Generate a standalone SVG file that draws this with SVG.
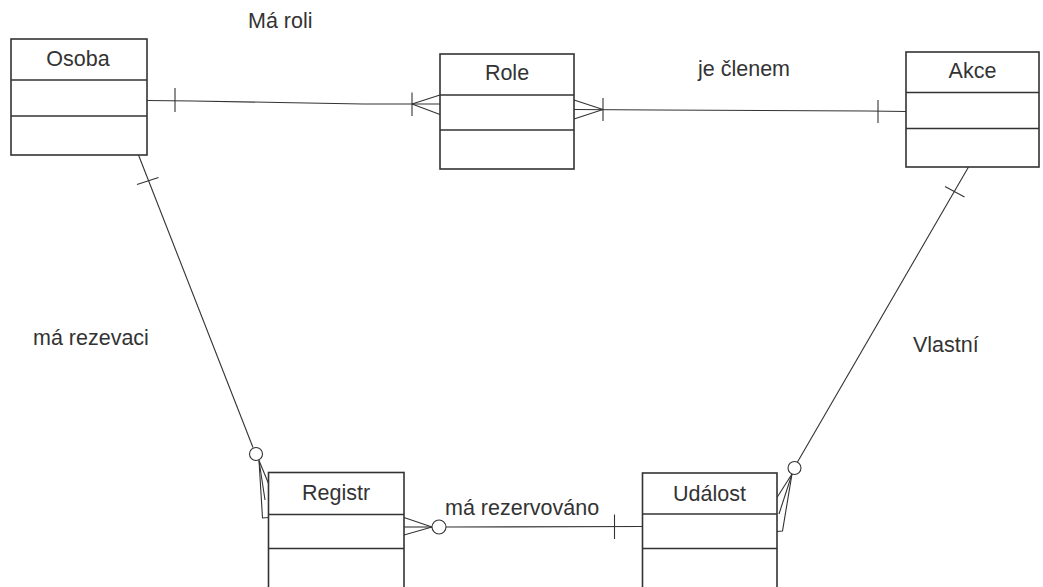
<svg xmlns="http://www.w3.org/2000/svg" width="1043" height="587" viewBox="0 0 1043 587">
  <style>
    .box { fill: #fff; stroke: #333; stroke-width: 1.6; }
    .div { stroke: #333; stroke-width: 1.6; fill: none; }
    .name { font-family: "Liberation Sans", Arial, sans-serif; font-size: 21.5px; fill: #333; text-anchor: middle; }
    .lbl { font-family: "Liberation Sans", Arial, sans-serif; font-size: 21.5px; fill: #333; }
    .ln { stroke: #333; stroke-width: 1.1; fill: none; }
    .circ { stroke: #333; stroke-width: 1.1; fill: #fff; }
  </style>
  <rect width="1043" height="587" fill="#fff"/>

  <!-- relationship lines -->
  <g id="connectors">
    <!-- Osoba - Role -->
    <polyline class="ln" points="147,100.5 193,101 279,102.5 363,104 440,104"/>
    <line class="ln" x1="175" y1="88" x2="175" y2="112"/>
    <line class="ln" x1="412" y1="92.5" x2="412" y2="116"/>
    <line class="ln" x1="412" y1="104" x2="440" y2="95"/>
    <line class="ln" x1="412" y1="104" x2="440" y2="114.5"/>

    <!-- Role - Akce -->
    <polyline class="ln" points="574,109.5 657,110 868,111 906,111.5"/>
    <line class="ln" x1="574" y1="100" x2="603" y2="109.5"/>
    <line class="ln" x1="574" y1="119" x2="603" y2="109.5"/>
    <line class="ln" x1="603" y1="98" x2="603" y2="121"/>
    <line class="ln" x1="878" y1="100" x2="878" y2="123"/>

    <!-- Osoba - Registr -->
    <line class="ln" x1="138.5" y1="155" x2="253" y2="447.5"/>
    <line class="ln" x1="137" y1="184.5" x2="158.5" y2="177.5"/>
    <circle class="circ" cx="256" cy="454" r="6.5"/>
    <line class="ln" x1="259" y1="460.5" x2="268.5" y2="483.5"/>
    <line class="ln" x1="259" y1="460.5" x2="265" y2="500"/>
    <polyline class="ln" points="259,460.5 262.5,518 268.5,517.5"/>

    <!-- Registr - Událost -->
    <line class="ln" x1="446" y1="527" x2="642" y2="526.5"/>
    <line class="ln" x1="404" y1="517.5" x2="432" y2="527"/>
    <line class="ln" x1="404" y1="527" x2="432" y2="527"/>
    <line class="ln" x1="404" y1="535" x2="432" y2="527"/>
    <circle class="circ" cx="439" cy="527" r="7"/>
    <line class="ln" x1="614.5" y1="514.5" x2="614.5" y2="539"/>

    <!-- Akce - Událost -->
    <line class="ln" x1="968.5" y1="167" x2="797.5" y2="462"/>
    <line class="ln" x1="945" y1="186.5" x2="964.5" y2="197"/>
    <circle class="circ" cx="794.5" cy="468" r="6.5"/>
    <line class="ln" x1="792" y1="474" x2="777" y2="497.5"/>
    <line class="ln" x1="792" y1="474" x2="779" y2="514"/>
    <polyline class="ln" points="792,474 782.5,531 777,531.5"/>
  </g>

  <!-- entities -->
  <g id="osoba">
    <rect class="box" x="11" y="39" width="136" height="116"/>
    <line class="div" x1="11" y1="80" x2="147" y2="80"/>
    <line class="div" x1="11" y1="116" x2="147" y2="116"/>
    <text class="name" x="78" y="66">Osoba</text>
  </g>

  <g id="role">
    <rect class="box" x="440" y="54" width="134" height="115"/>
    <line class="div" x1="440" y1="95" x2="574" y2="95"/>
    <line class="div" x1="440" y1="130" x2="574" y2="130"/>
    <text class="name" x="507" y="79.5">Role</text>
  </g>

  <g id="akce">
    <rect class="box" x="906" y="52" width="133" height="115"/>
    <line class="div" x1="906" y1="92.5" x2="1039" y2="92.5"/>
    <line class="div" x1="906" y1="128.5" x2="1039" y2="128.5"/>
    <text class="name" x="972.5" y="77.5">Akce</text>
  </g>

  <g id="registr">
    <rect class="box" x="268.5" y="472.5" width="135.5" height="130"/>
    <line class="div" x1="268.5" y1="514.5" x2="404" y2="514.5"/>
    <line class="div" x1="268.5" y1="548.5" x2="404" y2="548.5"/>
    <text class="name" x="336" y="500">Registr</text>
  </g>

  <g id="udalost">
    <rect class="box" x="642.5" y="473" width="134.5" height="130"/>
    <line class="div" x1="642.5" y1="514" x2="777" y2="514"/>
    <line class="div" x1="642.5" y1="548.5" x2="777" y2="548.5"/>
    <text class="name" x="709.5" y="500.5">Událost</text>
  </g>

  <!-- relationship names -->
  <g id="labels">
    <text class="lbl" x="248" y="27.5">Má roli</text>
    <text class="lbl" x="698" y="76">je členem</text>
    <text class="lbl" x="33" y="345">má rezevaci</text>
    <text class="lbl" x="445" y="515">má rezervováno</text>
    <text class="lbl" x="913" y="352">Vlastní</text>
  </g>
</svg>
